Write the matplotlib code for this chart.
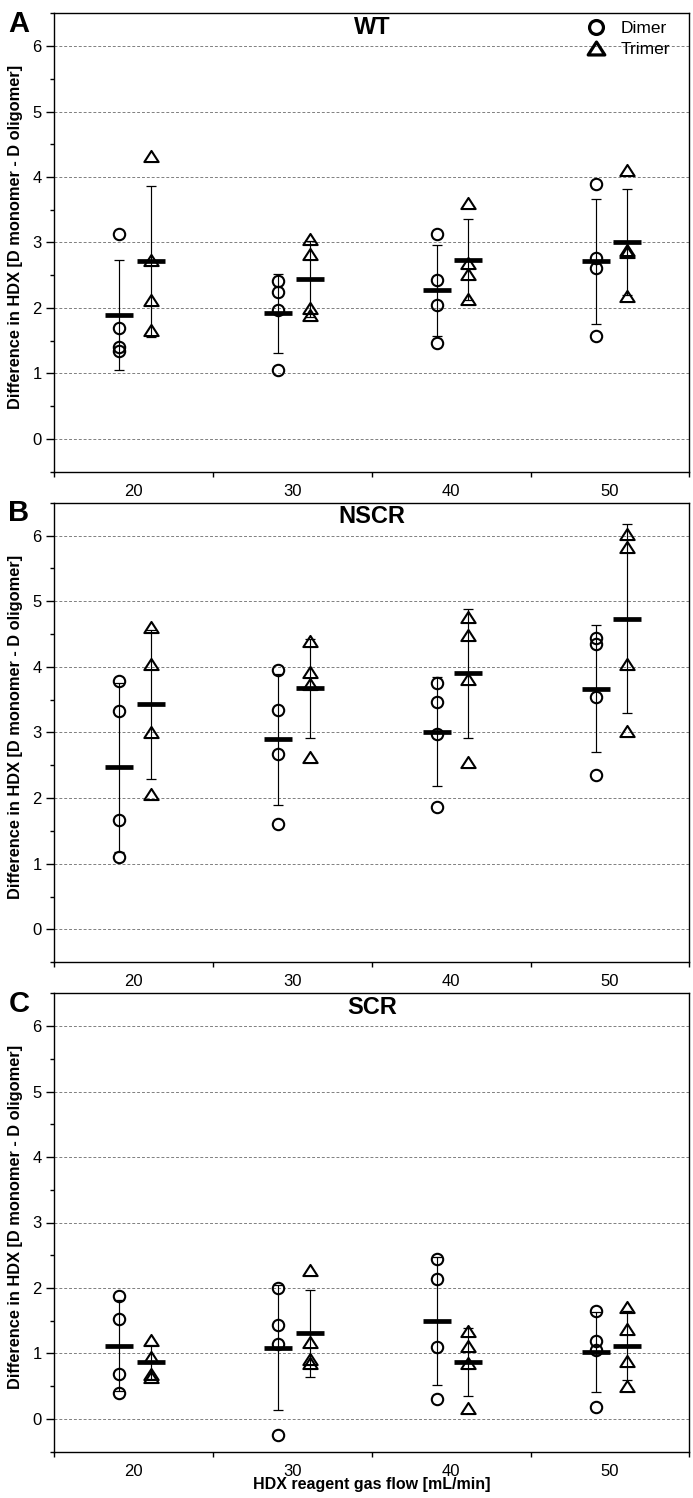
import numpy as np
import matplotlib
matplotlib.use('Agg')
import matplotlib.pyplot as plt
from matplotlib.path import Path
from matplotlib.lines import Line2D

plt.rcParams['font.family'] = ['Liberation Sans', 'DejaVu Sans']

# data (4 replicates per group)
flows = [20, 30, 40, 50]
panel_names = ['WT', 'NSCR', 'SCR']
panel_letters = ['A', 'B', 'C']

wt_dimer = [[3.13, 1.70, 1.41, 1.34], [2.41, 2.24, 1.97, 1.06],
            [3.13, 2.43, 2.04, 1.47], [3.90, 2.77, 2.61, 1.57]]
wt_trimer = [[4.32, 2.73, 2.12, 1.67], [3.06, 2.82, 2.00, 1.90],
             [3.60, 2.68, 2.52, 2.14], [4.11, 2.89, 2.85, 2.18]]
nscr_dimer = [[3.79, 3.32, 1.66, 1.10], [3.95, 3.34, 2.68, 1.61],
              [3.75, 3.46, 2.98, 1.87], [4.44, 4.35, 3.54, 2.35]]
nscr_trimer = [[4.61, 4.05, 3.00, 2.06], [4.40, 3.92, 3.74, 2.63],
               [4.76, 4.48, 3.82, 2.55], [6.02, 5.82, 4.05, 3.03]]
scr_dimer = [[1.87, 1.52, 0.69, 0.39], [2.00, 1.44, 1.15, -0.24],
             [2.44, 2.13, 1.10, 0.31], [1.65, 1.19, 1.06, 0.18]]
scr_trimer = [[1.21, 0.95, 0.69, 0.64], [2.28, 1.17, 0.92, 0.85],
              [1.35, 1.12, 0.85, 0.16], [1.71, 1.37, 0.89, 0.51]]

panels = [(wt_dimer, wt_trimer), (nscr_dimer, nscr_trimer), (scr_dimer, scr_trimer)]

# wide open triangle like the original
tri = Path([(0, 0.775), (-1, -0.775), (1, -0.775), (0, 0.775)],
           [Path.MOVETO, Path.LINETO, Path.LINETO, Path.CLOSEPOLY])

W, H = 693, 1498
fig = plt.figure(figsize=(W / 100, H / 100), dpi=100)

# axes boxes in pixels: (top, bottom)
boxes = [(13.3, 471.7), (502.7, 962.3), (993.3, 1451.7)]
left_px, right_px = 54.3, 689.3


def draw_group(ax, x, vals, marker, ms):
    vals = np.array(vals)
    m = vals.mean()
    s = vals.std(ddof=1)
    ax.errorbar(x, m, yerr=s, fmt='none', ecolor='k', elinewidth=0.85,
                capsize=3.3, capthick=0.9, zorder=2)
    ax.plot([x] * len(vals), vals, ls='none', marker=marker, ms=ms,
            mfc='none', mec='k', mew=1.5, zorder=3)
    ax.plot(x, m, marker='_', ms=20, mew=3.4, color='k', zorder=4)


for p, (dimer, trimer) in enumerate(panels):
    top, bot = boxes[p]
    ax = fig.add_axes([left_px / W, 1 - bot / H, (right_px - left_px) / W, (bot - top) / H])

    for i, f in enumerate(flows):
        draw_group(ax, f - 0.9, dimer[i], 'o', 8.2)
        draw_group(ax, f + 1.08, trimer[i], tri, 10.3)

    ax.set_xlim(15, 55)
    ax.set_ylim(-0.5, 6.5)
    ax.set_xticks(flows)
    ax.set_xticks([15, 25, 35, 45, 55], minor=True)
    ax.set_yticks(range(0, 7))
    ax.set_yticks(np.arange(-0.5, 6.6, 1.0), minor=True)
    ax.tick_params(axis='x', which='major', length=0, pad=8.5, labelsize=12)
    ax.tick_params(axis='x', which='minor', length=3.6, width=1, direction='out')
    ax.tick_params(axis='y', which='major', length=5.5, width=1, pad=3.5, labelsize=12)
    ax.tick_params(axis='y', which='minor', length=3.1, width=1)
    for sp in ax.spines.values():
        sp.set_linewidth(1.0)
    ax.yaxis.grid(True, which='major', ls=(0, (3, 2)), lw=0.7, color='#808080')
    ax.set_axisbelow(True)

    ax.text(0.5, 1 - 14 / (bot - top), panel_names[p], transform=ax.transAxes,
            ha='center', va='center', fontsize=17, fontweight='bold')
    fig.text(19 / W, 1 - (top + 10.5) / H, panel_letters[p], ha='center', va='center',
             fontsize=21, fontweight='bold')
    fig.text(16 / W, 1 - ((top + bot) / 2 - 6) / H,
             'Difference in HDX [D monomer - D oligomer]', rotation=90,
             ha='center', va='center', fontsize=11.8, fontweight='bold')

    if p == 0:
        handles = [Line2D([], [], ls='none', marker='o', ms=10, mfc='none', mec='k', mew=2.3),
                   Line2D([], [], ls='none', marker=tri, ms=12, mfc='none', mec='k', mew=2.3)]
        ax.legend(handles, ['Dimer', 'Trimer'], loc='upper right',
                  bbox_to_anchor=(1 - 10 / 635, 1 + 1 / 458), frameon=False,
                  borderpad=0, handlelength=1.0, handletextpad=0.95,
                  labelspacing=0.35, fontsize=12.5)

fig.text((left_px + right_px) / 2 / W, 1 - 1484 / H, 'HDX reagent gas flow [mL/min]',
         ha='center', va='center', fontsize=11.5, fontweight='bold')

fig.savefig('out.png', dpi=100)
